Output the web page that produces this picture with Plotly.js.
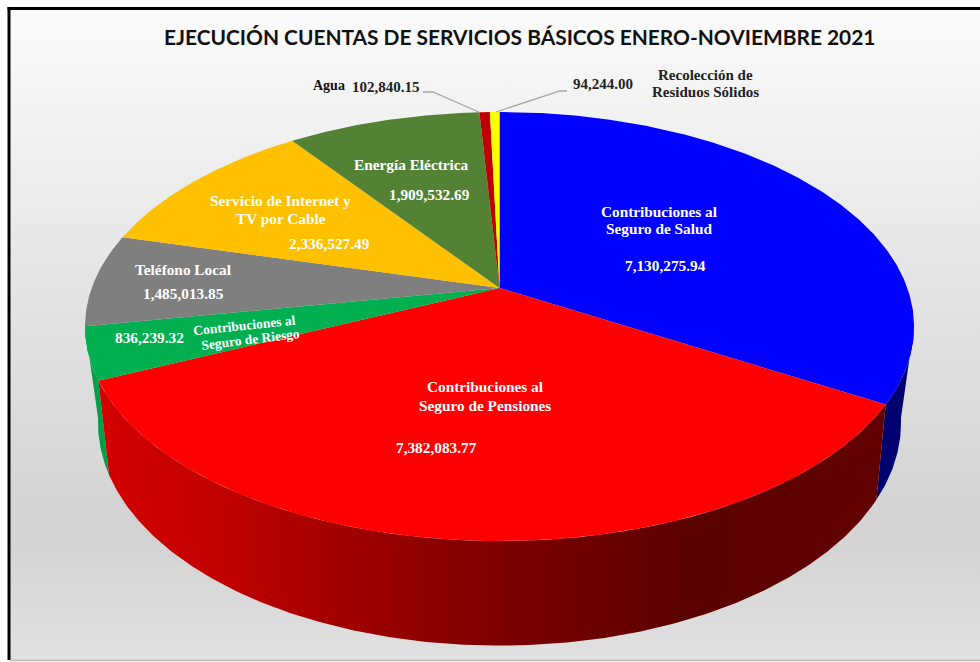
<!DOCTYPE html>
<html><head><meta charset="utf-8">
<script src="https://cdn.plot.ly/plotly-3.0.0.min.js"></script>
<style>html,body{margin:0;padding:0;background:#fff}#chart{width:980px;height:662px}</style>
</head><body><div id="chart"></div>
<script>
// ---- chart data ----
const categories = ["Contribuciones al Seguro de Salud","Contribuciones al Seguro de Pensiones","Contribuciones al Seguro de Riesgo","Teléfono Local","Servicio de Internet y TV por Cable","Energía Eléctrica","Agua","Recolección de Residuos Sólidos"];
const values = [7130275.94,7382083.77,836239.32,1485013.85,2336527.49,1909532.69,102840.15,94244.00];
const topColors = ["#0000ff","#ff0000","#00b050","#7f7f7f","#ffc000","#548235","#c00000","#ffff00"];
const wallColors = ["#000070","#800000","#00a04a"];
const titleText = "EJECUCIÓN CUENTAS DE SERVICIOS BÁSICOS ENERO-NOVIEMBRE 2021";

// ---- drawing geometry (tilted-disc projection, in axis units) ----
const tiltTop = {cx:499.5, cy:288, R:407.8, H:207.6, c:0.1795};
const tiltBase = {cx:499.5, cy:378.5, R:393.4, H:213.7, c:0.2};
function rim(p, deg){
  const t = deg*Math.PI/180, u = Math.sin(t), v = Math.cos(t), d = 1 + p.c*v;
  return [p.cx + p.R*u/d, p.cy - p.H*v/d];
}
function arc(p, a, b){
  const n = Math.max(2, Math.ceil(Math.abs(b-a)/0.5)), out = [];
  for(let i=0;i<=n;i++) out.push(rim(p, a+(b-a)*i/n));
  return out;
}
const total = values.reduce((s,v)=>s+v,0);
const edges = [0];
values.forEach(v=>edges.push(edges[edges.length-1]+v/total*360));
const fmt = v => v.toLocaleString("en-US",{minimumFractionDigits:2,maximumFractionDigits:2});

const traces = [];
const poly = (pts,color,name,extra) => Object.assign({
  type:"scatter",mode:"lines",x:pts.map(p=>p[0]),y:pts.map(p=>p[1]),fill:"toself",
  fillcolor:color,line:{width:0,color:color},name:name,hoverinfo:"skip",showlegend:false},extra||{});

// background panel
traces.push(poly([[9,8],[980,8],[980,660],[9,660],[9,8]],"#eeeeee","Fondo",{
  fillgradient:{type:"vertical",start:8,stop:660,colorscale:[[0,"#fbfbfb"],[0.33,"#e9e9e9"],[0.6,"#dcdcdc"],[0.8,"#d2d2d2"],[1,"#e1e1e1"]]}
}));

// side walls: visible front part, from the right tangent of the disc to the left tangent
const tangentR = 100.3, tangentL = 259.7;
const wallRange = [[tangentR,edges[1]],[edges[1],edges[2]],[edges[2],Math.max(edges[3],tangentL)]];
[0,2,1].forEach(i=>{
  const [a,b] = wallRange[i];
  const pts = arc(tiltTop,a,b).concat(arc(tiltBase,b,a));
  pts.push(pts[0]);
  const extra = i===1 ? {fillgradient:{type:"horizontal",start:100,stop:885,colorscale:[[0,"#d40000"],[0.16,"#c00000"],[0.32,"#a00000"],[0.5,"#800000"],[0.75,"#5a0000"],[1,"#620000"]]}} : {};
  traces.push(poly(pts,wallColors[i],categories[i]+" (lado)",extra));
});

// top slices
values.forEach((v,i)=>{
  const pts = [[tiltTop.cx,tiltTop.cy]].concat(arc(tiltTop,edges[i],edges[i+1]));
  pts.push(pts[0]);
  traces.push(poly(pts,topColors[i],categories[i]));
});

// leader lines
const leaderAnchors = [[423,92],[433,92]];
const leaderAnchors2 = [[567,91],[560,91]];
const agua = rim(tiltTop,(edges[6]+edges[7])/2-0.9);
const reco = rim(tiltTop,(edges[7]+edges[8])/2+0.2);
[[...leaderAnchors,agua],[...leaderAnchors2,reco]].forEach(l=>{
  traces.push({type:"scatter",mode:"lines",x:l.map(p=>p[0]),y:l.map(p=>p[1]),line:{color:"#a6a6a6",width:1.3},hoverinfo:"skip",showlegend:false});
});

// text
const serif = "Liberation Serif, Times New Roman, serif";
const txt = (t,x,y,size,color,angle) => ({text:"<b>"+t+"</b>",x:x,y:y-1,xref:"x",yref:"y",showarrow:false,
  font:{family:serif,size:size,color:color},textangle:angle||0,xanchor:"center",yanchor:"middle"});
const annotations = [
  {text:"<b>"+titleText+"</b>",x:519.5,y:36.5,xref:"x",yref:"y",showarrow:false,font:{family:"Lato, Open Sans, sans-serif",size:20.9,color:"#111"},xanchor:"center",yanchor:"middle"},
  txt("Agua",329,86,14,"#111"),
  txt(fmt(values[6]),386,88,15,"#222"),
  txt(fmt(values[7]),603,85,15,"#222"),
  txt("Recolección de",705,76,15,"#222"),
  txt("Residuos Sólidos",705,93,15,"#222"),
  txt("Contribuciones al",659,212,15.3,"#fff"),
  txt("Seguro de Salud",659,229,15.3,"#fff"),
  txt(fmt(values[0]),665,266,15.3,"#fff"),
  txt("Contribuciones al",485,387,15.3,"#fff"),
  txt("Seguro de Pensiones",485,406,15.3,"#fff"),
  txt(fmt(values[1]),436,448,15.3,"#fff"),
  txt("Energía Eléctrica",411,165,15.3,"#fff"),
  txt(fmt(values[5]),429,195,15.3,"#fff"),
  txt("Servicio de Internet y",280,201,15.3,"#fff"),
  txt("TV por Cable",281,219,15.3,"#fff"),
  txt(fmt(values[4]),329,244,15.3,"#fff"),
  txt("Teléfono Local",183,270,15.3,"#fff"),
  txt(fmt(values[3]),183,294,15.3,"#fff"),
  txt(fmt(values[2]),149,338,15.3,"#fff"),
  txt("Contribuciones al",244,326,13.5,"#fff",-6),
  txt("Seguro de Riesgo",250,340,13.5,"#fff",-7)
];

const shapes = [
  {type:"line",xref:"x",yref:"y",x0:7.5,x1:980,y0:8.5,y1:8.5,line:{color:"#000",width:3}},
  {type:"line",xref:"x",yref:"y",x0:9,x1:9,y0:7,y1:660,line:{color:"#000",width:3}},
  {type:"line",xref:"x",yref:"y",x0:10,x1:980,y0:660.5,y1:660.5,line:{color:"#bdbdbd",width:1.5}}
];

const hiddenAxis = r => ({range:r,visible:false,fixedrange:true,showgrid:false,zeroline:false});
Plotly.newPlot("chart",traces,{
  width:980,height:662,margin:{l:0,r:0,t:0,b:0,pad:0},paper_bgcolor:"#ffffff",plot_bgcolor:"rgba(0,0,0,0)",
  xaxis:hiddenAxis([0,980]),yaxis:hiddenAxis([662,0]),showlegend:false,annotations:annotations,shapes:shapes,hovermode:false
},{displayModeBar:false,staticPlot:true});
</script></body></html>
